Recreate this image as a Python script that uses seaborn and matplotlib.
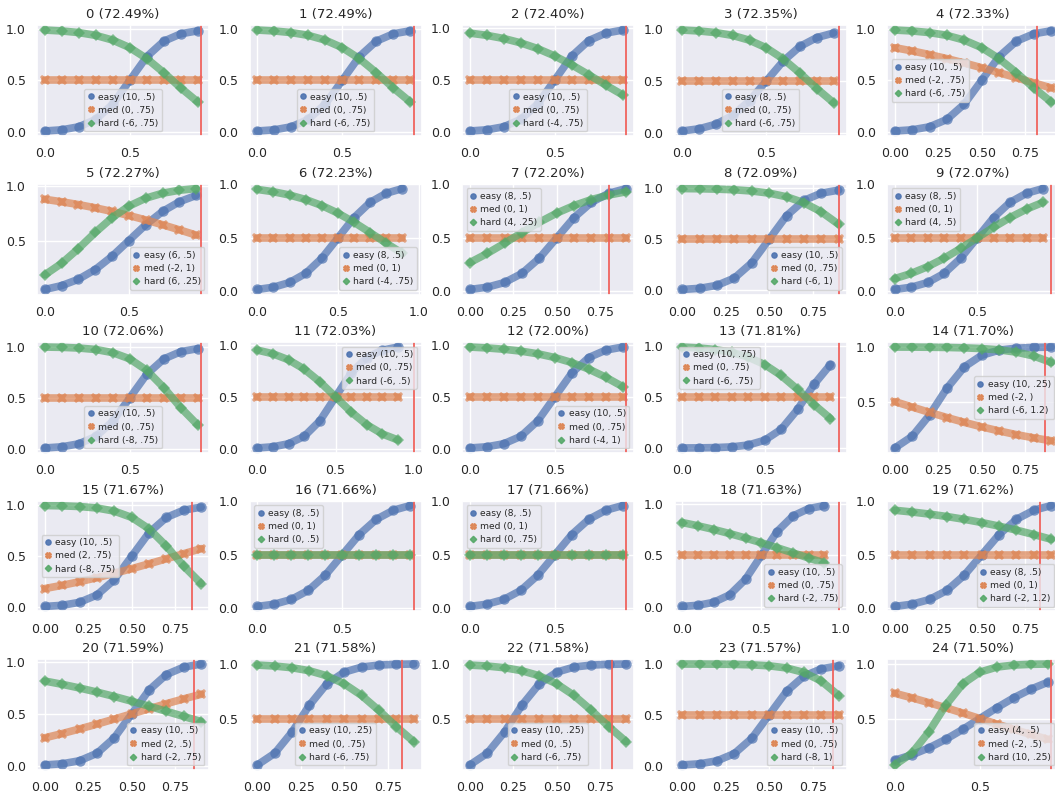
import numpy as np
import pandas as pd
import matplotlib
matplotlib.use("Agg")
import matplotlib.pyplot as plt
from matplotlib.lines import Line2D
from matplotlib.ticker import MaxNLocator
import seaborn as sns

# sample positions shared by every curve
xs = [0.0, 0.1, 0.2, 0.3, 0.4, 0.5, 0.6, 0.7, 0.8, 0.9]

# score of each configuration (panel titles)
scores = [72.49, 72.49, 72.40, 72.35, 72.33, 72.27, 72.23, 72.20, 72.09, 72.07,
          72.06, 72.03, 72.00, 71.81, 71.70, 71.67, 71.66, 71.66, 71.63, 71.62,
          71.59, 71.58, 71.58, 71.57, 71.50]

# logistic (slope, midpoint) for each difficulty level
easy_k = [10, 10, 10, 8, 10, 6, 8, 8, 10, 8, 10, 10, 10, 10, 10, 10, 8, 8, 10, 8, 10, 10, 10, 10, 4]
easy_x0 = [.5, .5, .5, .5, .5, .5, .5, .5, .5, .5, .5, .5, .5, .75, .25, .5, .5, .5, .5, .5, .5, .25, .25, .5, .5]
med_k = [0, 0, 0, 0, -2, -2, 0, 0, 0, 0, 0, 0, 0, 0, -2, 2, 0, 0, 0, 0, 2, 0, 0, 0, -2]
med_x0 = [.75, .75, .75, .75, .75, 1, 1, 1, .75, 1, .75, .75, .75, .75, 0, .75, 1, 1, .75, 1, .5, .75, .5, .75, .5]
hard_k = [-6, -6, -4, -6, -6, 6, -4, 4, -6, 4, -8, -6, -4, -6, -6, -8, 0, 0, -2, -2, -2, -6, -6, -8, 10]
hard_x0 = [.75, .75, .75, .75, .75, .25, .75, .25, 1, .5, .75, .5, 1, .75, 1.2, .75, .5, .75, .75, 1.2, .75, .75, .75, 1, .25]

# threshold marked in each panel (None: no threshold shown)
cutoffs = [0.92, 0.92, 0.92, 0.93, 0.82, 0.93, None, 0.80, 0.90, 0.95,
           0.92, 1.0, 0.92, 0.95, 0.865, 0.848, 0.92, 0.92, 0.99, 0.837,
           0.86, 0.83, 0.82, 0.87, 0.92]
# x range used where no threshold is drawn
default_xlim = (-0.0485, 1.0185)

# legend placement per panel
legend_locs = ["lower center", "lower center", "lower center", "lower center", "center left",
               "lower right", "lower right", "upper left", "lower right", "upper left",
               "lower center", "upper right", "lower right", "upper left", "center right",
               "center left", "upper left", "upper left", "lower right", "lower right",
               "lower right", "lower center", "lower center", "lower right", "lower right"]

levels = ["easy", "med", "hard"]
sns.set_theme(style="darkgrid")
palette = sns.color_palette("deep")[:3]
markers = ["o", "X", "D"]
marker_sizes = [7.5, 7.5, 6.5]


def logistic(x, k, x0):
    return 1.0 / (1.0 + np.exp(-k * (np.asarray(x) - x0)))


def fmt_mid(v):
    return f"{v:g}".lstrip("0")


fig, axes = plt.subplots(5, 5, figsize=(10.55, 7.97), dpi=100)
fig.subplots_adjust(left=0.0351, right=1.0038, top=0.9686, bottom=0.0339,
                    wspace=0.2355, hspace=0.428)

for i, ax in enumerate(axes.flat):
    params = [(easy_k[i], easy_x0[i]), (med_k[i], med_x0[i]), (hard_k[i], hard_x0[i])]
    for lvl, (k, x0), color, m, ms in zip(levels, params, palette, markers, marker_sizes):
        df = pd.DataFrame({"x": xs, "y": logistic(xs, k, x0)})
        sns.lineplot(data=df, x="x", y="y", color=color, marker=m,
                     linewidth=5.5, alpha=0.7, markersize=ms,
                     markeredgewidth=0, ax=ax)
    if cutoffs[i] is not None:
        ax.axvline(cutoffs[i], color="#f0605a", lw=1.4, alpha=0.9)
        # let the x range take the threshold line into account
        ax.relim()
        ax.autoscale(enable=True, axis="x")
    else:
        ax.set_xlim(*default_xlim)
    ax.set_title(f"{i} ({scores[i]:.2f}%)", fontsize=9.5, pad=5)
    ax.set_xlabel("")
    ax.set_ylabel("")
    ax.xaxis.set_major_locator(MaxNLocator(nbins=4, steps=[1, 2, 2.5, 5, 10]))
    ax.yaxis.set_major_locator(MaxNLocator(nbins=3, steps=[1, 2, 2.5, 5, 10]))
    ax.tick_params(labelsize=9, pad=2)

    handles = [Line2D([], [], ls="none", marker=m, color=c, markersize=s * 0.5, alpha=0.9)
               for m, c, s in zip(markers, palette, marker_sizes)]
    names = [f"{lvl} ({k}, {fmt_mid(x0)})" for lvl, (k, x0) in zip(levels, params)]
    ax.legend(handles, names, loc=legend_locs[i], fontsize=6.6, handlelength=0.6,
              handletextpad=0.5, borderpad=0.4, labelspacing=0.45, framealpha=0.8)

fig.savefig("out.png", dpi=100)
